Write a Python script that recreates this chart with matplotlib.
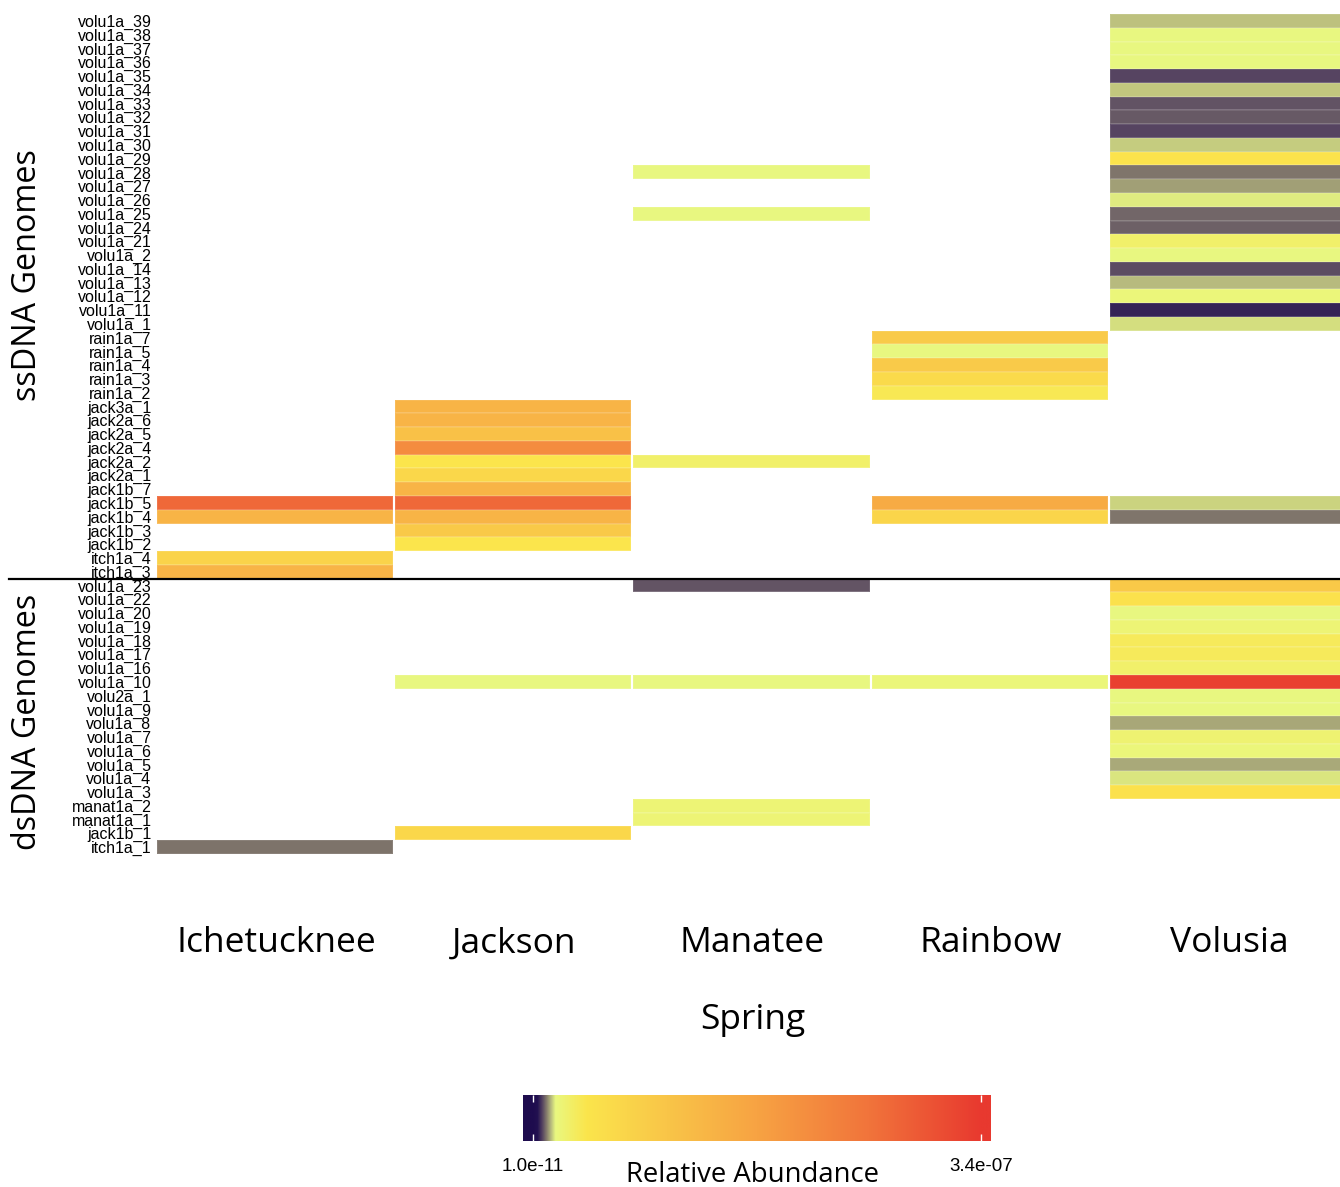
import numpy as np
import matplotlib.pyplot as plt
from matplotlib.colors import LinearSegmentedColormap, Normalize

# rows, top to bottom (41 ssDNA genomes, then 20 dsDNA genomes)
ss_genomes = ['volu1a_39', 'volu1a_38', 'volu1a_37', 'volu1a_36', 'volu1a_35', 'volu1a_34',
              'volu1a_33', 'volu1a_32', 'volu1a_31', 'volu1a_30', 'volu1a_29', 'volu1a_28',
              'volu1a_27', 'volu1a_26', 'volu1a_25', 'volu1a_24', 'volu1a_21', 'volu1a_2',
              'volu1a_14', 'volu1a_13', 'volu1a_12', 'volu1a_11', 'volu1a_1',
              'rain1a_7', 'rain1a_5', 'rain1a_4', 'rain1a_3', 'rain1a_2',
              'jack3a_1', 'jack2a_6', 'jack2a_5', 'jack2a_4', 'jack2a_2', 'jack2a_1',
              'jack1b_7', 'jack1b_5', 'jack1b_4', 'jack1b_3', 'jack1b_2',
              'itch1a_4', 'itch1a_3']
ds_genomes = ['volu1a_23', 'volu1a_22', 'volu1a_20', 'volu1a_19', 'volu1a_18', 'volu1a_17',
              'volu1a_16', 'volu1a_10', 'volu2a_1', 'volu1a_9', 'volu1a_8', 'volu1a_7',
              'volu1a_6', 'volu1a_5', 'volu1a_4', 'volu1a_3', 'manat1a_2', 'manat1a_1',
              'jack1b_1', 'itch1a_1']
genomes = ss_genomes + ds_genomes

springs = ['Ichetucknee', 'Jackson', 'Manatee', 'Rainbow', 'Volusia']

# relative abundance in units of 1e-9
ichetucknee = {'jack1b_5': 272, 'jack1b_4': 136, 'itch1a_4': 75, 'itch1a_3': 136,
               'itch1a_1': 9.8}
jackson = {'jack3a_1': 136, 'jack2a_6': 136, 'jack2a_5': 109, 'jack2a_4': 211,
           'jack2a_2': 41, 'jack2a_1': 68, 'jack1b_7': 136, 'jack1b_5': 272,
           'jack1b_4': 136, 'jack1b_3': 95, 'jack1b_2': 41, 'volu1a_10': 17,
           'jack1b_1': 68}
manatee = {'volu1a_28': 17, 'volu1a_25': 17, 'jack2a_2': 27, 'volu1a_23': 8.0,
           'volu1a_10': 17, 'manat1a_2': 22, 'manat1a_1': 22}
rainbow = {'rain1a_7': 92, 'rain1a_5': 17, 'rain1a_4': 92, 'rain1a_3': 61,
           'rain1a_2': 37, 'jack1b_5': 153, 'jack1b_4': 71, 'volu1a_10': 20}
volusia = {'volu1a_39': 14.0, 'volu1a_38': 17, 'volu1a_37': 17, 'volu1a_36': 17,
           'volu1a_35': 7.1, 'volu1a_34': 14.3, 'volu1a_33': 7.9, 'volu1a_32': 8.3,
           'volu1a_31': 7.1, 'volu1a_30': 14.6, 'volu1a_29': 44, 'volu1a_28': 9.9,
           'volu1a_27': 12.2, 'volu1a_26': 16.3, 'volu1a_25': 9.0, 'volu1a_24': 8.7,
           'volu1a_21': 27, 'volu1a_2': 17, 'volu1a_14': 7.5, 'volu1a_13': 13.6,
           'volu1a_12': 20, 'volu1a_11': 4.8, 'volu1a_1': 15.6,
           'jack1b_5': 15, 'jack1b_4': 9.9,
           'volu1a_23': 95, 'volu1a_22': 48, 'volu1a_20': 17, 'volu1a_19': 22,
           'volu1a_18': 34, 'volu1a_17': 34, 'volu1a_16': 27, 'volu1a_10': 330,
           'volu2a_1': 17, 'volu1a_9': 17, 'volu1a_8': 12.6, 'volu1a_7': 24,
           'volu1a_6': 20, 'volu1a_5': 12.7, 'volu1a_4': 16, 'volu1a_3': 48}
columns = [ichetucknee, jackson, manatee, rainbow, volusia]

vmin, vmax = 0.01, 340  # 1.0e-11 .. 3.4e-07

cmap = LinearSegmentedColormap.from_list('abund', [
    (0.0, '#1e0c4e'), (0.01, '#221150'), (0.02, '#524060'), (0.03, '#847b6c'),
    (0.04, '#b8bb7e'), (0.05, '#e9f880'), (0.12, '#fbe54c'),
    (0.30, '#f9c548'), (0.50, '#f7a343'), (0.75, '#f1743b'), (1.0, '#e8392f')], N=4096)
norm = Normalize(vmin, vmax)

mat = np.full((len(genomes), len(springs)), np.nan)
for j, col in enumerate(columns):
    for name, v in col.items():
        mat[genomes.index(name), j] = v
mat = np.ma.masked_invalid(mat)

fig = plt.figure(figsize=(13.4, 11.87), dpi=100)
W, H = 1340, 1187
ax = fig.add_axes([157 / W, 1 - 854 / H, 1191 / W, 840 / H])

gap = 0.0084
yedges = np.arange(len(genomes) + 1)
for j in range(len(springs)):
    ax.pcolormesh([j, j + 1 - gap], yedges, mat[:, j:j + 1], cmap=cmap, norm=norm,
                  edgecolors=(1, 1, 1, 0.1), linewidth=0.3)

ax.set_xlim(0, 5)
ax.set_ylim(len(genomes), 0)
for s in ax.spines.values():
    s.set_visible(False)
ax.set_yticks(np.arange(len(genomes)) + 0.5)
ax.set_yticklabels(genomes, family='Liberation Sans', fontsize=11.5)
ax.tick_params(axis='y', length=0, pad=4)
ax.set_xticks(np.arange(len(springs)) + 0.5)
ax.set_xticklabels(springs, family='Open Sans', fontsize=25.5)
ax.tick_params(axis='x', length=0, pad=52)
ax.set_xlabel('Spring', family='Open Sans', fontsize=25.5, labelpad=31)

# divider between ssDNA and dsDNA rows
ax.axhline(len(ss_genomes), xmin=-0.124, xmax=1, color='black', lw=1.6, clip_on=False)

fig.text(28 / W, 1 - 275 / H, 'ssDNA Genomes', rotation=90, ha='center', va='center',
         family='Open Sans', fontsize=23.3)
fig.text(28 / W, 1 - 722 / H, 'dsDNA Genomes', rotation=90, ha='center', va='center',
         family='Open Sans', fontsize=23.3)

# colour bar
cax = fig.add_axes([523 / W, 1 - 1141 / H, 468 / W, 46 / H])
pad = 0.022 * (vmax - vmin)
grad = np.linspace(vmin - pad, vmax + pad, 1000)
cax.imshow(grad[np.newaxis, :], extent=[vmin - pad, vmax + pad, 0, 1], aspect='auto',
           cmap=cmap, norm=norm)
cax.set_xlim(vmin - pad, vmax + pad)
cax.set_yticks([])
cax.set_xticks([vmin, vmax])
cax.set_xticklabels(['1.0e-11', '3.4e-07'], family='Liberation Sans', fontsize=13.5)
cax.tick_params(axis='x', direction='in', length=5, color='#ffffff', width=1, pad=12,
                top=True)
for s in cax.spines.values():
    s.set_visible(False)
fig.text(752 / W, 1 - 1175 / H, 'Relative Abundance', ha='center', va='center',
         family='Open Sans', fontsize=19.8)

fig.savefig('out.png', dpi=100, facecolor='white')
